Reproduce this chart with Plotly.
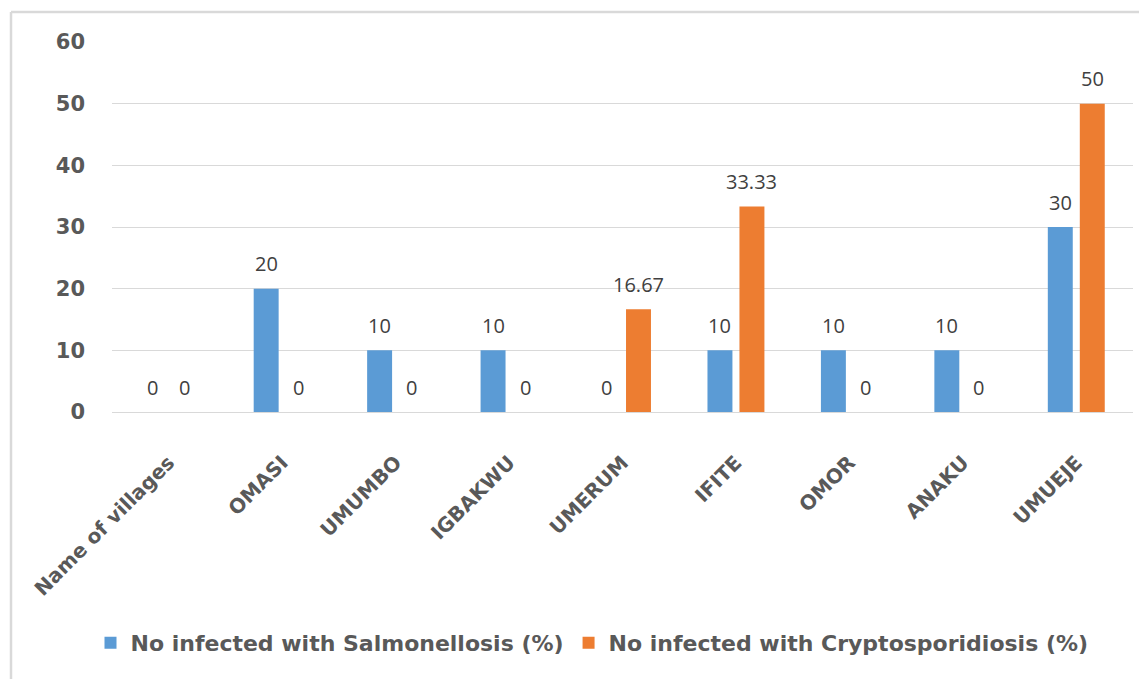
import plotly.graph_objects as go

categories = ["Name of villages", "OMASI", "UMUMBO", "IGBAKWU", "UMERUM", "IFITE", "OMOR", "ANAKU", "UMUEJE"]
salmonellosis = [0, 20, 10, 10, 0, 10, 10, 10, 30]
cryptosporidiosis = [0, 0, 0, 0, 16.67, 33.33, 0, 0, 50]
series_names = ["No infected with Salmonellosis (%)", "No infected with Cryptosporidiosis (%)"]
y_ticks = [0, 10, 20, 30, 40, 50, 60]


def fmt(v):
    return str(int(v)) if float(v).is_integer() else f"{v:.2f}"


OFF = 8  # default page body margin
W, H = 1147 - OFF, 679 - OFF
L, R, T = 112 - OFF, 14, 42 - OFF
B = H - (412 - OFF)
pw, ph = W - L - R, H - T - B


def px_x(x):
    return (x - OFF - L) / pw


def px_y(y):
    return (412 - y) / ph


fig = go.Figure()
colors = ["#5B9BD5", "#ED7D31"]
for name, vals, color in zip(series_names, [salmonellosis, cryptosporidiosis], colors):
    fig.add_trace(go.Bar(x=categories, y=vals, name=name, marker_color=color, marker_line_width=0))

annotations = []
for shift, vals in [(-16, salmonellosis), (16, cryptosporidiosis)]:
    for c, v in zip(categories, vals):
        annotations.append(dict(
            x=c, y=v, xref="x", yref="y", text=fmt(v), showarrow=False,
            xshift=shift, yshift=25, yanchor="middle", xanchor="center",
            font=dict(family="Open Sans, Liberation Sans, sans-serif", size=20, color="#404040"),
        ))

fig.update_layout(
    width=W, height=H,
    margin=dict(l=L, r=R, t=T, b=B, autoexpand=False),
    paper_bgcolor="white", plot_bgcolor="white",
    barmode="group", bargap=0.436, bargroupgap=0.22,
    showlegend=True,
    legend=dict(orientation="h", xanchor="center", x=px_x(592), yanchor="middle", y=px_y(643),
                font=dict(family="DejaVu Sans", size=22, color="#595959", weight="bold"),
                itemwidth=30, traceorder="normal"),
    xaxis=dict(tickangle=-45, showgrid=False, showline=False, ticks="", ticklabelstandoff=34,
               tickfont=dict(family="DejaVu Sans", size=20, color="#595959", weight="bold")),
    yaxis=dict(range=[0, 60], tickvals=y_ticks, showgrid=True, gridcolor="#d9d9d9", gridwidth=1.3,
               zeroline=True, zerolinecolor="#d9d9d9", zerolinewidth=1.3, showline=False, ticks="",
               ticklabelstandoff=26,
               tickfont=dict(family="DejaVu Sans", size=21, color="#595959", weight="bold")),
    annotations=annotations,
    shapes=[
        dict(type="line", xref="paper", yref="paper", x0=px_x(11), x1=px_x(1160), y0=px_y(12), y1=px_y(12),
             line=dict(color="#d9d9d9", width=2.5)),
        dict(type="line", xref="paper", yref="paper", x0=px_x(11), x1=px_x(11), y0=px_y(12), y1=px_y(690),
             line=dict(color="#d9d9d9", width=2.5)),
    ],
)

fig.write_html("out.html")
